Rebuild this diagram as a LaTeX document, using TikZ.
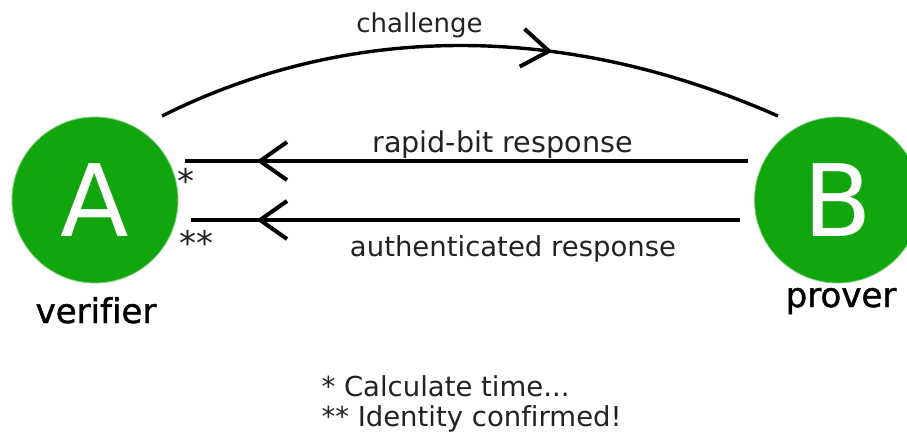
\documentclass[tikz,border=0pt]{standalone}
\usepackage{fontspec}
\setmainfont{DejaVu Sans}[Ligatures=NoCommon]
\newfontfamily\rolefont{DejaVu Sans}[Ligatures=NoCommon, BoldFont={DejaVu Sans}, BoldFeatures={FakeBold=1.3}]
\usetikzlibrary{decorations.markings}

\definecolor{partygreen}{RGB}{18,166,14}
\definecolor{inktext}{RGB}{34,34,34}

\tikzset{
  party/.style={circle, fill=partygreen, draw=partygreen!55, line width=0.8pt,
    minimum size=166pt, inner sep=0pt, text=white,
    font=\fontsize{100}{100}\selectfont},
  role/.style={anchor=base, text=black, font={\rolefont\bfseries\fontsize{34}{34}\selectfont}},
  msglabel/.style={anchor=base, text=inktext, font=\fontsize{27.5}{30}\selectfont},
  note/.style={anchor=base west, text=inktext, font=\fontsize{27.5}{30}\selectfont},
  star/.style={anchor=base, text=inktext, font=\fontsize{34}{34}\selectfont},
  msgline/.style={line width=3.4pt},
  % open barb drawn part-way along a message line
  barbmark/.style={postaction={decorate}, decoration={markings,
    mark=at position #1 with {\draw[line width=4pt, line join=miter]
      (-27pt,19pt) -- (0pt,0pt) -- (-27pt,-19pt);}}},
}

\begin{document}
\begin{tikzpicture}[x=1pt, y=-1pt]
  \useasboundingbox (0,0) rectangle (907,432);
  \clip (0,0) rectangle (907,432);

  % the two parties
  \node[party] (A) at (95,200) {A};
  \node[party] (B) at (837.5,200) {B};
  \node[role] (verifier) at (96,323) {verifier};
  \node[role] (prover) at (841,307) {prover};

  % end points of the message lines
  \coordinate (chA) at (162,116);
  \coordinate (chB) at (778,116);
  \coordinate (rbB) at (748,161);
  \coordinate (rbA) at (185,161);
  \coordinate (auB) at (740,220);
  \coordinate (auA) at (191,220);

  % challenge: A to B
  \draw[msgline, barbmark=0.625] (chA) .. controls (350,22) and (565,22) .. (chB);
  \node[msglabel, font=\fontsize{26}{30}\selectfont] (chl) at (419.5,32) {challenge};

  % rapid-bit response: B to A
  \draw[msgline, barbmark=488pt] (rbB) -- (rbA);
  \node[msglabel, font=\fontsize{28.6}{30}\selectfont] (rbl) at (502.5,152) {rapid-bit response};
  \node[star] (s1) at (185.5,193) {*};

  % authenticated response: B to A
  \draw[msgline, barbmark=480pt] (auB) -- (auA);
  \node[msglabel] (aul) at (513,256) {authenticated response};
  \node[star] (s2) at (196.5,255) {**};

  % notes
  \node[note] (n1) at (318,396) {* Calculate time...};
  \node[note] (n2) at (318,426) {** Identity confirmed!};
\end{tikzpicture}
\end{document}
